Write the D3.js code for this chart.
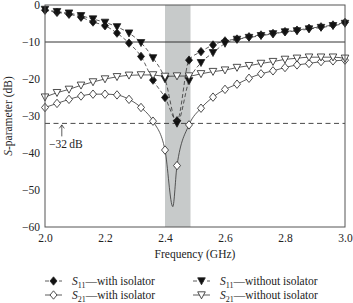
<!DOCTYPE html>
<html>
<head>
<meta charset="utf-8">
<script src="https://cdn.jsdelivr.net/npm/d3@7"></script>
<style>
  body { margin: 0; background: #fff; }
  svg text { font-family: "Liberation Serif", "Times New Roman", Times, serif !important; fill: #222; }
</style>
</head>
<body>
<div id="chart"></div>
<script>
// data (frequency in GHz, S-parameters in dB)
const freqs = [2.00, 2.04, 2.08, 2.12, 2.16, 2.20, 2.24, 2.28, 2.32, 2.36, 2.40, 2.44, 2.48,
  2.52, 2.56, 2.60, 2.64, 2.68, 2.72, 2.76, 2.80, 2.84, 2.88, 2.92, 2.96, 3.00];

const s11With = [-1.4, -2.0, -2.5, -3.3, -4.6, -5.6, -7.6, -10.3, -13.9, -20.3, -25.0, -31.3, -14.9,
  -12.6, -10.8, -9.7, -9.2, -8.6, -8.1, -7.7, -7.2, -6.8, -6.3, -5.9, -5.4, -4.7];

const s11Without = [-1.2, -1.8, -2.2, -2.9, -3.8, -4.7, -5.9, -7.6, -10.2, -14.3, -20.0, -32.0, -20.5,
  -15.6, -12.9, -10.4, -9.3, -8.8, -8.3, -7.8, -7.3, -7.0, -6.5, -6.1, -5.6, -5.0];

const s21With = [-27.7, -26.6, -25.5, -24.6, -24.1, -24.1, -24.3, -25.5, -27.7, -31.4, -39.2, -43.4, -32.4,
  -27.9, -24.9, -22.8, -21.4, -19.8, -18.6, -17.8, -16.9, -16.2, -15.8, -15.3, -15.1, -14.9];

// the deep notch of S21 (with isolator) sits between two markers
const s21WithNotch = [[2.426, -54.5]];

const s21Without = [-24.9, -23.7, -22.8, -21.7, -20.8, -20.0, -19.4, -19.0, -18.9, -18.9, -19.3, -19.2, -19.2,
  -18.6, -18.0, -17.6, -16.9, -16.4, -15.8, -15.3, -14.7, -14.4, -14.1, -14.1, -14.1, -14.4];

const xTicks = [2.0, 2.2, 2.4, 2.6, 2.8, 3.0];
const yTicks = [0, -10, -20, -30, -40, -50, -60];
const band = [2.4, 2.485];
const refLine = -10;
const markLine = -32;

// 1. dimensions
const margin = { top: 5, right: 8, bottom: 76, left: 45 },
  width = 353 - margin.left - margin.right,
  height = 303 - margin.top - margin.bottom;

const root = d3.select("#chart")
  .append("svg")
  .attr("width", 353)
  .attr("height", 303)
  .attr("font-family", "Liberation Serif, serif");

const svg = root.append("g")
  .attr("transform", `translate(${margin.left}, ${margin.top})`);

// 2. scales
const x = d3.scaleLinear().domain([2.0, 3.0]).range([0, width]);
const y = d3.scaleLinear().domain([-60, 0]).range([height, 0]);

// 3. shaded ISM band
svg.append("rect")
  .attr("x", x(band[0]))
  .attr("y", 0)
  .attr("width", x(band[1]) - x(band[0]))
  .attr("height", height)
  .attr("fill", "#c7caca");

// 4. reference lines
svg.append("line")
  .attr("x1", 0).attr("x2", width)
  .attr("y1", y(refLine)).attr("y2", y(refLine))
  .attr("stroke", "#333").attr("stroke-width", 1);

svg.append("line")
  .attr("x1", 0).attr("x2", width)
  .attr("y1", y(markLine)).attr("y2", y(markLine))
  .attr("stroke", "#333").attr("stroke-width", 0.9)
  .attr("stroke-dasharray", "5,3.5");

// 5. series
const series = [
  { key: "s11w", values: s11With, extra: [], dashed: true, shape: "diamond", filled: true },
  { key: "s11o", values: s11Without, extra: [], dashed: true, shape: "triangle", filled: true },
  { key: "s21w", values: s21With, extra: s21WithNotch, dashed: false, shape: "diamond", filled: false },
  { key: "s21o", values: s21Without, extra: [], dashed: false, shape: "triangle", filled: false }
];

const line = d3.line()
  .x(d => x(d[0]))
  .y(d => y(d[1]))
  .curve(d3.curveMonotoneX);

function markerPath(shape) {
  if (shape === "diamond") return "M0,-4.2L3.5,0L0,4.2L-3.5,0Z";
  return "M-3.8,-3.2L3.8,-3.2L0,3.8Z";
}

series.forEach(s => {
  const pts = freqs.map((f, i) => [f, s.values[i]])
    .concat(s.extra)
    .sort((a, b) => a[0] - b[0]);

  svg.append("path")
    .datum(pts)
    .attr("fill", "none")
    .attr("stroke", "#333")
    .attr("stroke-width", 0.8)
    .attr("stroke-dasharray", s.dashed ? "4,2.5" : null)
    .attr("d", line);
});

series.forEach(s => {
  svg.selectAll(".mk-" + s.key)
    .data(freqs.map((f, i) => [f, s.values[i]]))
    .enter()
    .append("path")
    .attr("class", "mk-" + s.key)
    .attr("transform", d => `translate(${x(d[0])}, ${y(d[1])})`)
    .attr("d", markerPath(s.shape))
    .attr("fill", s.filled ? "#111" : "#fff")
    .attr("stroke", "#222")
    .attr("stroke-width", 0.8);
});

// 6. axes and frame
const xAxis = svg.append("g")
  .attr("transform", `translate(0, ${height})`)
  .call(d3.axisBottom(x).tickValues(xTicks).tickSize(0).tickPadding(7).tickFormat(d3.format(".1f")));

const yAxis = svg.append("g")
  .call(d3.axisLeft(y).tickValues(yTicks).tickSize(0).tickPadding(5)
    .tickFormat(d => d < 0 ? "\u2212" + Math.abs(d) : d));

[xAxis, yAxis].forEach(g => {
  g.attr("font-family", null);
  g.select(".domain").remove();
  g.selectAll("text")
    .attr("font-size", 11.5)
    .attr("fill", "#222");
});

svg.append("rect")
  .attr("width", width)
  .attr("height", height)
  .attr("fill", "none")
  .attr("stroke", "#555")
  .attr("stroke-width", 1);

// 7. -32 dB annotation
const ax = x(2.056);
svg.append("line")
  .attr("x1", ax).attr("x2", ax)
  .attr("y1", y(markLine) + 1.5).attr("y2", y(markLine) + 13)
  .attr("stroke", "#333").attr("stroke-width", 0.8);
svg.append("path")
  .attr("d", `M${ax - 2.5},${y(markLine) + 5}L${ax},${y(markLine) + 1.5}L${ax + 2.5},${y(markLine) + 5}`)
  .attr("fill", "none").attr("stroke", "#333").attr("stroke-width", 0.8);
svg.append("text")
  .attr("x", x(2.013))
  .attr("y", y(markLine) + 25)
  .attr("font-size", 11.5)
  .text("\u221232\u2009dB");

// 8. axis titles
root.append("text")
  .attr("x", margin.left + width / 2)
  .attr("y", 258)
  .attr("text-anchor", "middle")
  .attr("font-size", 11.5)
  .text("Frequency (GHz)");

const yTitle = root.append("text")
  .attr("transform", `translate(12, ${margin.top + height / 2}) rotate(-90)`)
  .attr("text-anchor", "middle")
  .attr("font-size", 11.5);
yTitle.append("tspan").attr("font-style", "italic").text("S");
yTitle.append("tspan").text("-parameter (dB)");

// 9. legend
const legend = [
  { s: series[0], sub: "11", label: "\u2014with isolator", lx: 45, ly: 281 },
  { s: series[1], sub: "11", label: "\u2014without isolator", lx: 193, ly: 281 },
  { s: series[2], sub: "21", label: "\u2014with isolator", lx: 45, ly: 295 },
  { s: series[3], sub: "21", label: "\u2014without isolator", lx: 193, ly: 295 }
];

legend.forEach(l => {
  const g = root.append("g").attr("transform", `translate(${l.lx}, ${l.ly})`);
  g.append("line")
    .attr("x1", 0).attr("x2", 17)
    .attr("y1", 0).attr("y2", 0)
    .attr("stroke", "#333").attr("stroke-width", 0.8)
    .attr("stroke-dasharray", l.s.dashed ? "4,3" : null);
  g.append("path")
    .attr("transform", "translate(8.5, 0)")
    .attr("d", markerPath(l.s.shape))
    .attr("fill", l.s.filled ? "#111" : "#fff")
    .attr("stroke", "#222")
    .attr("stroke-width", 0.8);
  const t = g.append("text")
    .attr("x", 27)
    .attr("y", 4)
    .attr("font-size", 11.5);
  t.append("tspan").attr("font-style", "italic").text("S");
  t.append("tspan").attr("font-size", 8).attr("dy", 2.5).text(l.sub);
  t.append("tspan").attr("dy", -2.5).text(l.label);
});
</script>
</body>
</html>
